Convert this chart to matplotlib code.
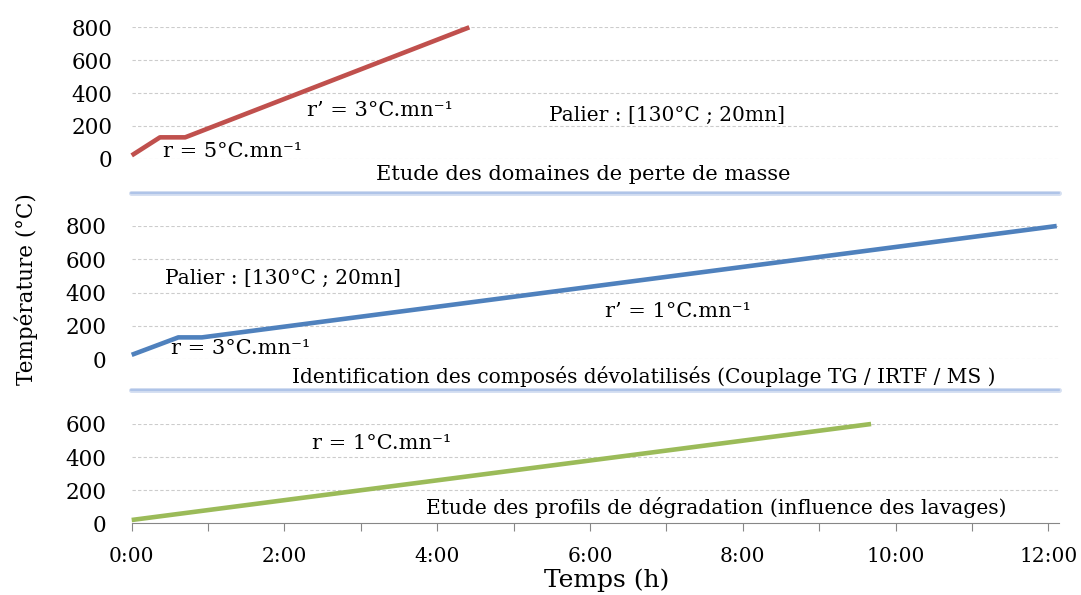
import matplotlib.pyplot as plt
from matplotlib.lines import Line2D

# temperature programmes (time in hours, temperature in °C)
red_t = [0, 0.37, 0.70, 4.42]
red_T = [20, 130, 130, 800]
blue_t = [0, 0.61, 0.92, 12.11]
blue_T = [25, 130, 130, 800]
green_t = [0, 9.68]
green_T = [20, 600]

hour_ticks = list(range(0, 13))
hour_labels = ["0:00", "", "2:00", "", "4:00", "", "6:00", "", "8:00", "", "10:00", "", "12:00"]

plt.rcParams['font.family'] = ['DejaVu Serif']
W, H = 1081, 595
fig = plt.figure(figsize=(W / 100, H / 100), dpi=100)

def px_axes(y0, y1):
    # y0 = pixel row of value 0, y1 = pixel row of top gridline
    left, right = 131.7, 1059
    return fig.add_axes([left / W, 1 - y0 / H, (right - left) / W, (y0 - y1) / H])

ax1 = px_axes(158.7, 27.3)
ax2 = px_axes(359, 226)
ax3 = px_axes(523.3, 424)

grid_kw = dict(color="#CCCCCC", lw=0.8, ls=(0, (3, 2)))
for ax, ymax, yticks, pad in [(ax1, 800, [0, 200, 400, 600, 800], 14),
                              (ax2, 800, [0, 200, 400, 600, 800], 18),
                              (ax3, 600, [0, 200, 400, 600], 18)]:
    ax.set_xlim(0, 12.14)
    ax.set_ylim(0, ymax)
    ax.set_yticks(yticks)
    for s in ax.spines.values():
        s.set_visible(False)
    ax.tick_params(axis='y', length=0, pad=pad, labelsize=15.5)
    ax.patch.set_alpha(0)
    for v in yticks:
        if ax is ax3 and v == 0:
            continue
        ax.axhline(v, zorder=0, **grid_kw)

for ax in (ax1, ax2):
    ax.set_xticks([])

ax3.spines['bottom'].set_visible(True)
ax3.spines['bottom'].set_color("#878787")
ax3.set_xticks(hour_ticks)
ax3.set_xticklabels(hour_labels)
ax3.tick_params(axis='x', length=6, color="#878787", pad=11, labelsize=14.5)

lw = 3.3
ax1.plot(red_t, red_T, color="#C0504D", lw=lw, clip_on=False, solid_capstyle='butt')
ax2.plot(blue_t, blue_T, color="#4F81BD", lw=lw, clip_on=False, solid_capstyle='butt')
ax3.plot(green_t, green_T, color="#9BBB59", lw=lw, clip_on=False, solid_capstyle='butt')

fs = 15
# panel 1 annotations
ax1.text(0.415, 43, "r = 5°C.mn⁻¹", fontsize=fs, va='center')
ax1.text(2.29, 296, "r’ = 3°C.mn⁻¹", fontsize=fs, va='center')
ax1.text(5.46, 266, "Palier : [130°C ; 20mn]", fontsize=14.5, va='center')
ax1.text(5.91, -99, "Etude des domaines de perte de masse", fontsize=fs, va='center', ha='center')
# panel 2 annotations
ax2.text(0.44, 487, "Palier : [130°C ; 20mn]", fontsize=14.5, va='center')
ax2.text(0.517, 64, "r = 3°C.mn⁻¹", fontsize=fs, va='center')
ax2.text(6.19, 284, "r’ = 1°C.mn⁻¹", fontsize=fs, va='center')
ax2.text(6.70, -108, "Identification des composés dévolatilisés (Couplage TG / IRTF / MS )",
         fontsize=14.5, va='center', ha='center')
# panel 3 annotations
ax3.text(2.36, 485, "r = 1°C.mn⁻¹", fontsize=fs, va='center')
ax3.text(7.65, 98, "Etude des profils de dégradation (influence des lavages)",
         fontsize=14.6, va='center', ha='center')

# light blue separators between the three studies
for ysep in (192.7, 390):
    for c, w in (("#D6E0F2", 3.6), ("#AFC4E8", 1.6)):
        fig.add_artist(Line2D([131 / W, 1059 / W], [1 - ysep / H, 1 - ysep / H],
                              color=c, lw=w, solid_capstyle='round'))

fig.text(26.5 / W, 1 - 289 / H, "Température (°C)", rotation=90, fontsize=15.5,
         ha='center', va='center')
fig.text(607 / W, 1 - 580 / H, "Temps (h)", fontsize=18, ha='center', va='center')

fig.savefig("out.png", dpi=100)
